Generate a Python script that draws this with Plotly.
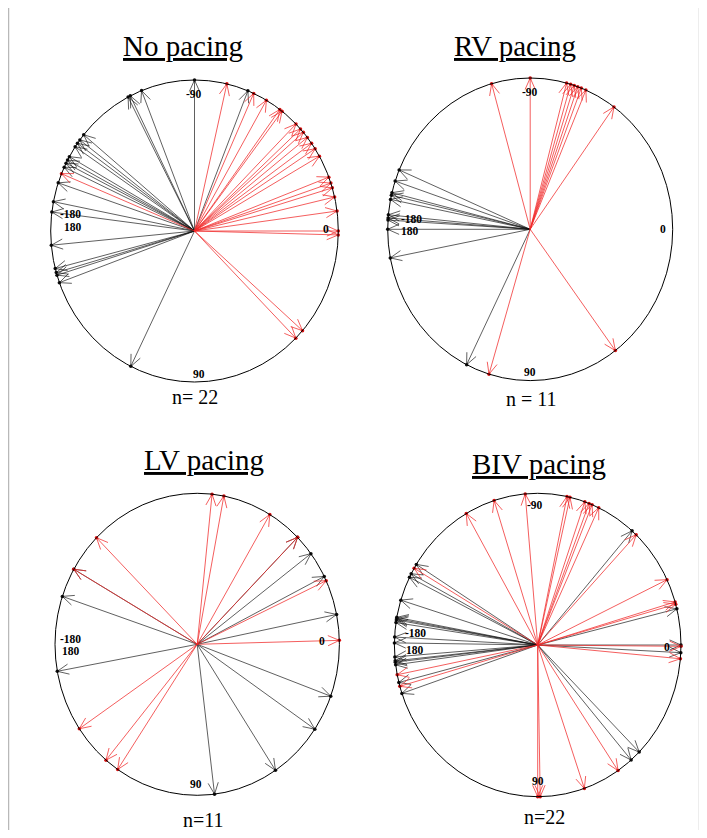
import math
import plotly.graph_objects as go

# ---------------- data (angles in degrees: 0 = right, -90 = top, 90 = bottom, ±180 = left)
titles = ["No pacing", "RV pacing", "LV pacing", "BIV pacing"]
n_labels = ["n= 22", "n = 11", "n=11", "n=22"]

black_nopacing = [-90, -116.5, -111.6, -117.5, -140.4, -142.9, -144.5, -146.1, -150.5, -152.0,
                  -153.3, -155.0, -161.4, -168.8, -172.8, 174.6, 165.6, 164.0, 163.0, 160.0,
                  116.3, -68.2]
red_nopacing = [-77, -65.7, -60, -53.6, -52.5, -45.1, -42.5, -40.8, -38.3, -35.5, -33, -29.7,
                -20.9, -18.5, -16.6, -13, -7.6, 0, 1.5, 41.3, 45.2, -157.7]

black_rv = [-156.9, -161.4, -166, -167, -168.6, -174.5, -175.7, -176.5, 180, 169.1, 116.5]
red_rv = [-90, -105.7, -75.2, -73.5, -72, -70.5, -69, -67, -54, 53.3, 106.8]

black_lv = [-150.2, -161.5, 169.7, -45.1, -36.9, -26.7, -11.4, 20.1, 34.2, 56.6, 83]
red_lv = [-135.1, -150.2, 146, 129.9, 124, -84, -79.2, -59.3, -45.1, -24.9, -1.5]

black_biv = [-147.9, -152, -153.5, -162.8, -169.5, -170, -170.5, -171.5, -177, -179.2, 172.5,
             173.5, 174, 175.5, 165.7, 161.4, -48.8, -13.8, 0, 2.9, 44.9, 49.3]
red_biv = [-95, -107.7, -119.9, -149.6, 168.7, 164.2, 90, 89, -78.2, -77, -70.8, -69, -67.7,
           -64.8, -46.6, -25.5, -16.5, -15.6, 5.2, 0.5, 55.9, 71]

black_sets = [black_nopacing, black_rv, black_lv, black_biv]
red_sets = [red_nopacing, red_rv, red_lv, red_biv]

# angle tick labels per panel: (text, u, v) in unit-circle coordinates
tick_labels = [
    [("-90", 0.0, -0.907), ("0", 0.912, -0.01), ("90", 0.03, 0.947),
     ("-180", -0.86, -0.113), ("180", -0.846, -0.028)],
    [("-90", 0.0, -0.909), ("0", 0.934, 0.0), ("90", 0.0, 0.941),
     ("-180", -0.832, -0.07), ("180", -0.843, 0.013)],
    [("0", 0.878, -0.02), ("90", -0.01, 0.925),
     ("-180", -0.89, -0.037), ("180", -0.89, 0.046)],
    [("-90", -0.02, -0.923), ("0", 0.904, 0.01), ("90", 0.0, 0.895),
     ("-180", -0.854, -0.08), ("180", -0.854, 0.03)],
]

# ---------------- layout geometry (window pixels)
OX, OY = 8, 8
W, H = 691, 822
R = 1.1
# panel: centre x, centre y, radius x, radius y (px)
panels = [(194.5, 231.0, 143.8, 151.0), (530.2, 229.3, 142.5, 151.3),
          (197.2, 644.3, 142.2, 151.0), (537.7, 645.0, 143.3, 151.7)]
title_pos = [(183, 46), (515, 46), (204, 460), (539, 464)]
n_pos = [(195, 397), (531, 399), (203, 820), (544, 817)]


def px(X):
    return (X - OX) / W


def py(Y):
    return 1 - (Y - OY) / H


HEAD_LEN = 12.5
HEAD_ANG = math.radians(24)

BLACK_LINE = "rgba(20,20,20,0.68)"
RED_LINE = "rgba(240,40,40,0.75)"

fig = go.Figure()
annotations = []
shapes = []

for i, (cx, cy, rx, ry) in enumerate(panels):
    xa = "x" if i == 0 else f"x{i+1}"
    ya = "y" if i == 0 else f"y{i+1}"
    xkey = "xaxis" if i == 0 else f"xaxis{i+1}"
    ykey = "yaxis" if i == 0 else f"yaxis{i+1}"
    fig.layout[xkey] = dict(domain=[px(cx - R * rx), px(cx + R * rx)], range=[-R, R],
                            visible=False, anchor=ya, fixedrange=True)
    fig.layout[ykey] = dict(domain=[py(cy + R * ry), py(cy - R * ry)], range=[R, -R],
                            visible=False, anchor=xa, fixedrange=True)
    shapes.append(dict(type="circle", xref=xa, yref=ya, x0=-1, x1=1, y0=-1, y1=1,
                       line=dict(color="black", width=1)))

    for angles, lc, dc in [(black_sets[i], BLACK_LINE, "#111111"),
                           (red_sets[i], RED_LINE, "#d81010")]:
        sx, sy, hx, hy, tx, ty = [], [], [], [], [], []
        for a in angles:
            t = math.radians(a)
            ux, uy = math.cos(t), math.sin(t)
            sx += [0, ux, None]
            sy += [0, uy, None]
            tx.append(ux)
            ty.append(uy)
            vx, vy = -ux * rx, -uy * ry
            nrm = math.hypot(vx, vy)
            vx, vy = vx / nrm, vy / nrm
            pts = []
            for s in (1, -1):
                c, si = math.cos(s * HEAD_ANG), math.sin(s * HEAD_ANG)
                wx = (vx * c - vy * si) * HEAD_LEN / rx
                wy = (vx * si + vy * c) * HEAD_LEN / ry
                pts.append((ux + wx, uy + wy))
            hx += [pts[0][0], ux, pts[1][0], None]
            hy += [pts[0][1], uy, pts[1][1], None]
        fig.add_trace(go.Scatter(x=sx, y=sy, mode="lines", xaxis=xa, yaxis=ya,
                                 line=dict(color=lc, width=1), hoverinfo="skip",
                                 showlegend=False))
        fig.add_trace(go.Scatter(x=hx, y=hy, mode="lines", xaxis=xa, yaxis=ya,
                                 line=dict(color=lc, width=1), hoverinfo="skip",
                                 showlegend=False))
        fig.add_trace(go.Scatter(x=tx, y=ty, mode="markers", xaxis=xa, yaxis=ya,
                                 marker=dict(color=dc, size=3.5), hoverinfo="skip",
                                 showlegend=False))

    for txt, u, v in tick_labels[i]:
        annotations.append(dict(text=f"<b>{txt}</b>", x=u, y=v, xref=xa, yref=ya,
                                showarrow=False, xanchor="center", yanchor="middle",
                                font=dict(family="Liberation Serif, Times New Roman, serif",
                                          size=11.5, color="black")))

    tx_, ty_ = title_pos[i]
    annotations.append(dict(text=f"<u>{titles[i]}</u>", x=px(tx_), y=py(ty_),
                            xref="paper", yref="paper", showarrow=False,
                            xanchor="center", yanchor="middle",
                            font=dict(family="Liberation Serif, Times New Roman, serif",
                                      size=29, color="black")))
    nx_, ny_ = n_pos[i]
    annotations.append(dict(text=n_labels[i], x=px(nx_), y=py(ny_), xref="paper",
                            yref="paper", showarrow=False, xanchor="center",
                            yanchor="middle",
                            font=dict(family="Liberation Serif, Times New Roman, serif",
                                      size=20, color="black")))

# outer frame
shapes.append(dict(type="rect", xref="paper", yref="paper", x0=px(8.5), x1=px(699.5),
                   y0=py(834.5), y1=py(5), line=dict(color="#b8b8b8", width=1.5)))

fig.update_layout(width=W, height=H, margin=dict(l=0, r=0, t=0, b=0),
                  paper_bgcolor="white", plot_bgcolor="rgba(0,0,0,0)",
                  annotations=annotations, shapes=shapes, showlegend=False)

fig.write_html("out.html")
